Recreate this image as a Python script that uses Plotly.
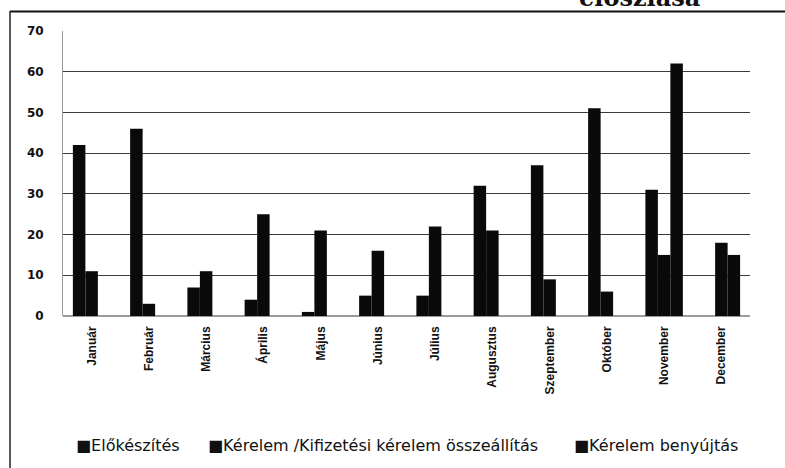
import plotly.graph_objects as go

months = ["Január", "Február", "Március", "Április", "Május", "Június",
          "Július", "Augusztus", "Szeptember", "Október", "November", "December"]
series_names = ["Előkészítés", "Kérelem /Kifizetési kérelem összeállítás", "Kérelem benyújtás"]
elokeszites = [42, 46, 7, 4, 1, 5, 5, 32, 37, 51, 31, 0]
osszeallitas = [11, 3, 11, 25, 21, 16, 22, 21, 9, 6, 15, 18]
benyujtas = [0, 0, 0, 0, 0, 0, 0, 0, 0, 0, 62, 15]
y_ticks = [0, 10, 20, 30, 40, 50, 60, 70]
title_fragment = "eloszlása"

W, H = 785, 468
L, R, T, B = 63, 35, 31, 152
PW, PH = W - L - R, H - T - B


def px(x):
    return (x - L) / PW


def py(y):
    return (H - B - y) / PH


fig = go.Figure()
for name, vals in zip(series_names, [elokeszites, osszeallitas, benyujtas]):
    fig.add_trace(go.Bar(x=months, y=vals, name=name, showlegend=False,
                         marker=dict(color="#0a0a0a", line=dict(width=0))))

fig.update_layout(
    width=W, height=H,
    margin=dict(l=L, r=R, t=T, b=B),
    paper_bgcolor="white", plot_bgcolor="white",
    barmode="group", bargap=0.345, bargroupgap=0,
    xaxis=dict(type="category", tickangle=-90, showgrid=False, ticks="",
               ticklabelstandoff=7,
               tickfont=dict(family="Liberation Sans", size=12, color="#111", weight="bold"),
               showline=False, zeroline=False),
    yaxis=dict(range=[0, 70], tickvals=y_ticks, showgrid=True, gridcolor="#3a3a3a", gridwidth=1,
               ticks="", ticklabelstandoff=16,
               tickfont=dict(family="DejaVu Sans", size=12, color="#111", weight="bold"),
               showline=True, linecolor="#9a9a9a", linewidth=1,
               zeroline=True, zerolinecolor="#9a9a9a", zerolinewidth=2),
    font=dict(family="Liberation Sans", color="#111"),
)

# legend entries (square marker + series name), as in the scanned chart
legend_x = [74, 206, 572]
for name, lx in zip(series_names, legend_x):
    fig.add_annotation(text="■" + name, xref="paper", yref="paper", x=px(lx), y=py(445),
                       xanchor="left", yanchor="middle", showarrow=False,
                       font=dict(family="DejaVu Sans", size=16, color="#111"))

# outer frame (top and left edges of the scanned box)
fig.add_shape(type="line", xref="paper", yref="paper", x0=px(10), x1=px(786), y0=py(11.5), y1=py(11.5),
              line=dict(color="#111", width=2))
fig.add_shape(type="line", xref="paper", yref="paper", x0=px(10), x1=px(10), y0=py(11), y1=py(469),
              line=dict(color="#222", width=1.5))

# cropped title at the very top
fig.add_annotation(text="<b>" + title_fragment + "</b>", xref="paper", yref="paper", x=px(639), y=py(14),
                   xanchor="center", yanchor="bottom", showarrow=False,
                   font=dict(family="DejaVu Serif", size=24, color="#111"))

fig.write_html("out.html", config={"displayModeBar": False},
               post_script="document.body.style.margin='0';")
